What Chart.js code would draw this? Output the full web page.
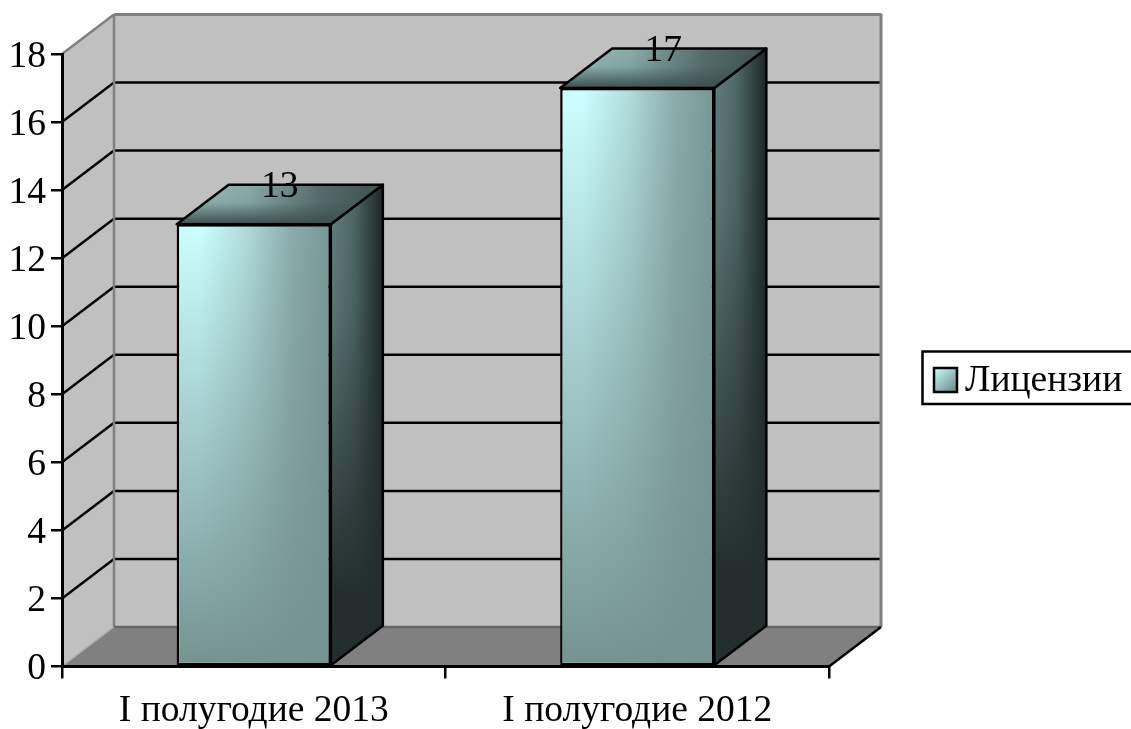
<!DOCTYPE html>
<html>
<head>
<meta charset="utf-8">
<title>Лицензии</title>
<style>
  html, body { margin: 0; padding: 0; background: #fff; }
  #wrap { width: 1131px; height: 729px; position: relative; }
</style>
<script src="https://cdn.jsdelivr.net/npm/chart.js@4"></script>
</head>
<body>
<div id="wrap"><canvas id="chart" width="1131" height="729"></canvas></div>
<script>
  const categories = ['I полугодие 2013', 'I полугодие 2012'];
  const licenses = [13, 17];
  const seriesName = 'Лицензии';
  const yTicks = [0, 2, 4, 6, 8, 10, 12, 14, 16, 18];

  const FONT = '"Liberation Serif", "Times New Roman", serif';
  const FONT_SIZE = 37.5;
  const DEPTH_X = 52, DEPTH_Y = 39.5;

  function poly(ctx, pts, fill, stroke, width) {
    ctx.beginPath();
    pts.forEach((p, i) => i ? ctx.lineTo(p[0], p[1]) : ctx.moveTo(p[0], p[1]));
    ctx.closePath();
    if (fill) { ctx.fillStyle = fill; ctx.fill(); }
    if (stroke) { ctx.strokeStyle = stroke; ctx.lineWidth = width; ctx.lineJoin = 'round'; ctx.stroke(); }
  }

  function line(ctx, x1, y1, x2, y2, color, width) {
    ctx.beginPath();
    ctx.moveTo(x1, y1);
    ctx.lineTo(x2, y2);
    ctx.strokeStyle = color;
    ctx.lineWidth = width;
    ctx.stroke();
  }

  function hGrad(ctx, x1, x2, stops) {
    const g = ctx.createLinearGradient(x1, 0, x2, 0);
    stops.forEach(s => g.addColorStop(s[0], s[1]));
    return g;
  }

  function vGrad(ctx, y1, y2, stops) {
    const g = ctx.createLinearGradient(0, y1, 0, y2);
    stops.forEach(s => g.addColorStop(s[0], s[1]));
    return g;
  }

  // back wall, side wall, floor and gridlines
  const walls = {
    id: 'walls',
    beforeDraw(chart) {
      const ctx = chart.ctx, a = chart.chartArea, y = chart.scales.y;
      const l = a.left, r = a.right, t = a.top, b = a.bottom;
      ctx.save();
      poly(ctx, [[l, t], [l + DEPTH_X, t - DEPTH_Y], [l + DEPTH_X, b - DEPTH_Y], [l, b]], '#c0c0c0');
      poly(ctx, [[l + DEPTH_X, t - DEPTH_Y], [r + DEPTH_X, t - DEPTH_Y], [r + DEPTH_X, b - DEPTH_Y], [l + DEPTH_X, b - DEPTH_Y]], '#c0c0c0');
      poly(ctx, [[l, b], [l + DEPTH_X, b - DEPTH_Y], [r + DEPTH_X, b - DEPTH_Y], [r, b]], '#808080');
      yTicks.forEach(v => {
        if (v === 0 || v === yTicks[yTicks.length - 1]) return;
        const py = y.getPixelForValue(v);
        line(ctx, l, py, l + DEPTH_X, py - DEPTH_Y, '#000', 2.5);
        line(ctx, l + DEPTH_X, py - DEPTH_Y, r + DEPTH_X, py - DEPTH_Y, '#000', 2.5);
      });
      line(ctx, l, t, l + DEPTH_X, t - DEPTH_Y, '#808080', 2.5);
      line(ctx, l + DEPTH_X, t - DEPTH_Y, r + DEPTH_X, t - DEPTH_Y, '#808080', 3);
      line(ctx, l + DEPTH_X, t - DEPTH_Y, l + DEPTH_X, b - DEPTH_Y, '#808080', 2.5);
      line(ctx, r + DEPTH_X, t - DEPTH_Y - 1, r + DEPTH_X, b - DEPTH_Y, '#808080', 3);
      line(ctx, l + DEPTH_X, b - DEPTH_Y, r + DEPTH_X, b - DEPTH_Y, '#666', 2.5);
      line(ctx, l, b, l + DEPTH_X, b - DEPTH_Y, '#a6a6a6', 1.5);
      line(ctx, r, b, r + DEPTH_X, b - DEPTH_Y, '#000', 2.5);
      ctx.restore();
    }
  };

  // side and top faces of the boxes, shading and value labels
  const boxes = {
    id: 'boxes',
    beforeDatasetsDraw(chart) {
      const ctx = chart.ctx;
      ctx.save();
      chart.getDatasetMeta(0).data.forEach(bar => {
        const l = bar.x - bar.width / 2, r = bar.x + bar.width / 2, t = bar.y, b = bar.base;
        const side = [[r, t], [r + DEPTH_X, t - DEPTH_Y], [r + DEPTH_X, b - DEPTH_Y], [r, b]];
        poly(ctx, side, hGrad(ctx, r, r + DEPTH_X, [[0, '#627f7f'], [0.45, '#4f6666'], [1, '#1d2626']]));
        poly(ctx, side, vGrad(ctx, t - DEPTH_Y, b, [[0, 'rgba(36,46,46,0)'], [0.25, 'rgba(36,46,46,0.1)'], [0.85, 'rgba(36,46,46,1)'], [1, 'rgba(36,46,46,1)']]), '#000', 2.5);
        const top = [[l, t], [l + DEPTH_X, t - DEPTH_Y], [r + DEPTH_X, t - DEPTH_Y], [r, t]];
        poly(ctx, top, hGrad(ctx, l, r + DEPTH_X, [[0, '#9cc0be'], [0.35, '#88abaa'], [0.7, '#566c6c'], [1, '#3f5151']]));
        poly(ctx, top, vGrad(ctx, t - DEPTH_Y, t, [[0, 'rgba(60,78,78,0)'], [0.45, 'rgba(60,78,78,0.1)'], [1, 'rgba(60,78,78,1)']]), '#000', 2.5);
      });
      ctx.restore();
    },
    afterDatasetsDraw(chart) {
      const ctx = chart.ctx;
      ctx.save();
      const values = chart.data.datasets[0].data;
      chart.getDatasetMeta(0).data.forEach((bar, i) => {
        const l = bar.x - bar.width / 2, t = bar.y, b = bar.base;
        // darken front face towards the floor, inside the border
        ctx.fillStyle = vGrad(ctx, t, b, [[0, 'rgba(117,147,145,0)'], [1, 'rgba(117,147,145,1)']]);
        ctx.fillRect(l + 2.5, t + 2.5, bar.width - 5, b - t - 5);
        ctx.fillStyle = '#000';
        ctx.font = FONT_SIZE + 'px ' + FONT;
        ctx.textAlign = 'center';
        ctx.textBaseline = 'middle';
        ctx.fillText(values[i], bar.x + DEPTH_X / 2, t - DEPTH_Y + 3);
      });
      ctx.restore();
    },
    afterDraw(chart) {
      const ctx = chart.ctx;
      ctx.save();
      // legend box runs off the right edge of the picture
      ctx.strokeStyle = '#000';
      ctx.lineWidth = 2.5;
      ctx.beginPath();
      ctx.moveTo(1133, 351.5);
      ctx.lineTo(922.5, 351.5);
      ctx.lineTo(922.5, 404);
      ctx.lineTo(1133, 404);
      ctx.stroke();
      const g = ctx.createLinearGradient(934, 368, 957, 392);
      g.addColorStop(0, '#ccffff');
      g.addColorStop(1, '#668484');
      ctx.fillStyle = g;
      ctx.fillRect(934, 368, 23, 24);
      ctx.strokeRect(934, 368, 23, 24);
      ctx.fillStyle = '#000';
      ctx.font = FONT_SIZE + 'px ' + FONT;
      ctx.textAlign = 'left';
      ctx.textBaseline = 'middle';
      ctx.fillText(chart.data.datasets[0].label, 965, 381);
      ctx.restore();
    }
  };

  function frontFace(c) {
    const chart = c.chart;
    if (!chart.chartArea) return '#7a9a9a';
    const x = chart.scales.x.getPixelForValue(c.dataIndex);
    const half = chart.scales.x.width / categories.length * 0.402 / 2;
    return hGrad(chart.ctx, x - half, x + half, [[0, '#ccffff'], [0.15, '#ccffff'], [0.45, '#b0dcda'], [0.75, '#8aabaa'], [1, '#779796']]);
  }

  // the tick digits sit a little lower than canvas "middle" puts them
  function nudgeLabels(scale, dy) {
    const compute = scale.constructor.prototype._computeLabelItems;
    scale._computeLabelItems = area => {
      const items = compute.call(scale, area);
      items.forEach(item => { item.options.translation[1] += dy; });
      return items;
    };
  }

  new Chart(document.getElementById('chart'), {
    type: 'bar',
    data: {
      labels: categories,
      datasets: [{
        label: seriesName,
        data: licenses,
        backgroundColor: frontFace,
        borderColor: '#000',
        borderWidth: 2.5,
        borderSkipped: false,
        barPercentage: 0.402,
        categoryPercentage: 1
      }]
    },
    plugins: [walls, boxes],
    options: {
      responsive: false,
      animation: false,
      layout: { padding: { left: 0, top: 54, right: 302, bottom: 0 } },
      plugins: { legend: { display: false }, tooltip: { enabled: false } },
      scales: {
        x: {
          afterFit(s) { s.height = 62.5; },
          grid: { drawOnChartArea: false, color: '#000', tickLength: 12, lineWidth: 2.5 },
          border: { color: '#000', width: 3 },
          ticks: { color: '#000', font: { family: FONT, size: FONT_SIZE }, padding: 10, maxRotation: 0 }
        },
        y: {
          min: 0,
          max: 18,
          afterFit(s) { s.width = 62; nudgeLabels(s, 3); },
          afterBuildTicks(s) { s.ticks = yTicks.map(v => ({ value: v })); },
          grid: { drawOnChartArea: false, color: '#000', tickLength: 11, lineWidth: 2.5 },
          border: { color: '#000', width: 3 },
          ticks: { color: '#000', font: { family: FONT, size: FONT_SIZE }, padding: 5 }
        }
      }
    }
  });
</script>
</body>
</html>
